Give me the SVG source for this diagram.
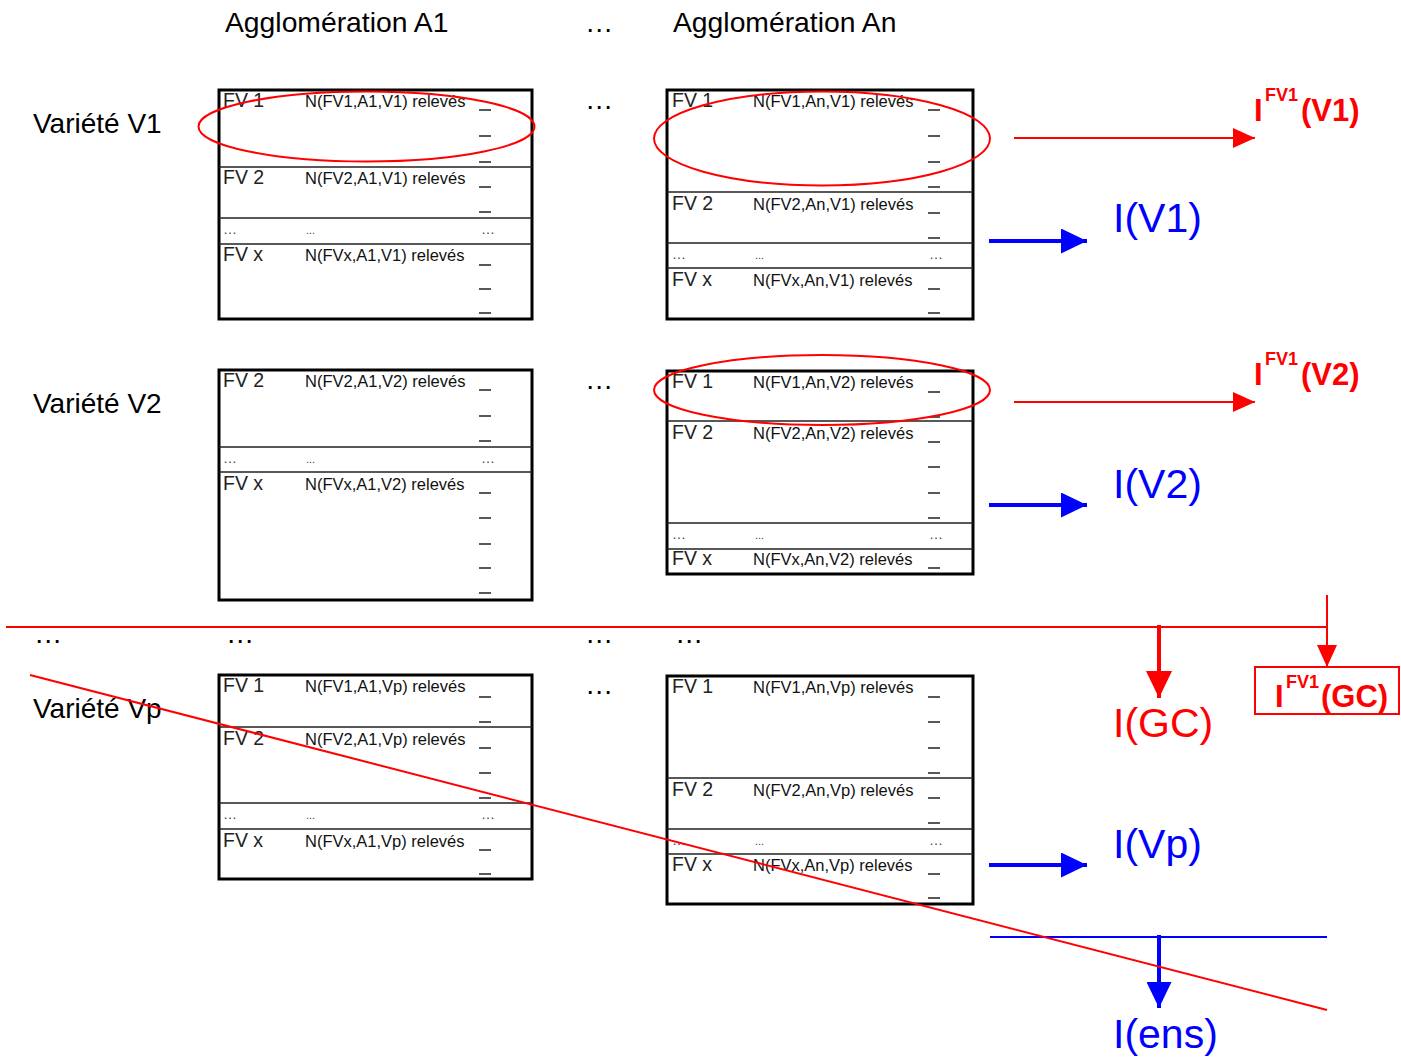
<svg xmlns="http://www.w3.org/2000/svg" width="1401" height="1060" viewBox="0 0 1401 1060">
<defs>
<style>
.hdr{font-family:"Liberation Sans",Arial,sans-serif;font-size:28.3px;fill:#000}
.var{font-family:"Liberation Sans",Arial,sans-serif;font-size:28px;fill:#000}
.fv{font-family:"Liberation Sans",Arial,sans-serif;font-size:19.5px;fill:#222}
.nt{font-family:"Liberation Sans",Arial,sans-serif;font-size:16.5px;fill:#111}
.el{font-family:"Liberation Sans",Arial,sans-serif;font-size:14px;fill:#444}
.el2{font-family:"Liberation Sans",Arial,sans-serif;font-size:11px;fill:#444}
.box{fill:#fff;stroke:#000;stroke-width:3}
.div{stroke:#222;stroke-width:1.5;fill:none}
.dash{stroke:#222;stroke-width:1.5;fill:none}
.ring{fill:none;stroke:#f00;stroke-width:2}
.res{font-family:"Liberation Sans",Arial,sans-serif;font-size:41px}
.bold{font-family:"Liberation Sans",Arial,sans-serif;font-weight:bold}
.red{fill:#f00}
.blue{fill:#00f}
.rl{stroke:#f00;stroke-width:2;fill:none}
.rt{stroke:#f00;stroke-width:4;fill:none}
.bl{stroke:#00f;stroke-width:2;fill:none}
.bt{stroke:#00f;stroke-width:4;fill:none}
</style>
<marker id="hr" markerUnits="userSpaceOnUse" viewBox="0 0 22 20" refX="22" refY="10" markerWidth="22" markerHeight="20" orient="auto"><path d="M0,0L22,10L0,20z" fill="#f00"/></marker>
<marker id="hrt" markerUnits="userSpaceOnUse" viewBox="0 0 27 26" refX="27" refY="13" markerWidth="27" markerHeight="26" orient="auto"><path d="M0,0L27,13L0,26z" fill="#f00"/></marker>
<marker id="hbt" markerUnits="userSpaceOnUse" viewBox="0 0 26 25" refX="26" refY="12.5" markerWidth="26" markerHeight="25" orient="auto"><path d="M0,0L26,12.5L0,25z" fill="#00f"/></marker>
</defs>
<rect width="1401" height="1060" fill="#fff"/>

<g id="headers">
<text class="hdr" x="225" y="32">Agglomération A1</text>
<text class="hdr" x="585" y="32">…</text>
<text class="hdr" x="673" y="32">Agglomération An</text>
<text class="hdr" x="585" y="109">…</text>
<text class="hdr" x="585" y="389">…</text>
<text class="hdr" x="585" y="694">…</text>
<text class="hdr" x="34" y="643">…</text>
<text class="hdr" x="226" y="643">…</text>
<text class="hdr" x="585" y="643">…</text>
<text class="hdr" x="675" y="643">…</text>
<text class="var" x="33" y="133">Variété V1</text>
<text class="var" x="33" y="413">Variété V2</text>
<text class="var" x="33" y="718">Variété Vp</text>
</g>

<g id="table-A1-V1">
<rect class="box" x="219" y="90" width="313" height="229"/>
<path class="div" d="M219 167H532M219 218H532M219 244H532"/>
<text class="fv" x="223" y="107">FV 1</text><text class="nt" x="305" y="107">N(FV1,A1,V1) relevés</text>
<text class="fv" x="223" y="184">FV 2</text><text class="nt" x="305" y="184">N(FV2,A1,V1) relevés</text>
<text class="el" x="223" y="234">…</text><text class="el2" x="306" y="234">...</text><text class="el" x="481" y="234">…</text>
<text class="fv" x="223" y="261">FV x</text><text class="nt" x="305" y="261">N(FVx,A1,V1) relevés</text>
<path class="dash" d="M479 110h12M479 136h12M479 162h12M479 187h12M479 212h12M479 265h12M479 289h12M479 313h12"/>
</g>

<g id="table-An-V1">
<rect class="box" x="667" y="90" width="306" height="229"/>
<path class="div" d="M667 192H973M667 243H973M667 268H973"/>
<text class="fv" x="672" y="107">FV 1</text><text class="nt" x="753" y="107">N(FV1,An,V1) relevés</text>
<text class="fv" x="672" y="210">FV 2</text><text class="nt" x="753" y="210">N(FV2,An,V1) relevés</text>
<text class="el" x="672" y="259">…</text><text class="el2" x="755" y="259">...</text><text class="el" x="929" y="259">…</text>
<text class="fv" x="672" y="286">FV x</text><text class="nt" x="753" y="286">N(FVx,An,V1) relevés</text>
<path class="dash" d="M928 110h12M928 136h12M928 162h12M928 187h12M928 213h12M928 238h12M928 289h12M928 313h12"/>
</g>

<g id="table-A1-V2">
<rect class="box" x="219" y="370" width="313" height="230"/>
<path class="div" d="M219 447H532M219 472H532"/>
<text class="fv" x="223" y="387">FV 2</text><text class="nt" x="305" y="387">N(FV2,A1,V2) relevés</text>
<text class="el" x="223" y="463">…</text><text class="el2" x="306" y="463">...</text><text class="el" x="481" y="463">…</text>
<text class="fv" x="223" y="490">FV x</text><text class="nt" x="305" y="490">N(FVx,A1,V2) relevés</text>
<path class="dash" d="M479 390h12M479 416h12M479 441h12M479 493h12M479 518h12M479 544h12M479 568h12M479 593h12"/>
</g>

<g id="table-An-V2">
<rect class="box" x="667" y="371" width="306" height="203"/>
<path class="div" d="M667 421H973M667 523H973M667 549H973"/>
<text class="fv" x="672" y="388">FV 1</text><text class="nt" x="753" y="388">N(FV1,An,V2) relevés</text>
<text class="fv" x="672" y="439">FV 2</text><text class="nt" x="753" y="439">N(FV2,An,V2) relevés</text>
<text class="el" x="672" y="539">…</text><text class="el2" x="755" y="539">...</text><text class="el" x="929" y="539">…</text>
<text class="fv" x="672" y="565">FV x</text><text class="nt" x="753" y="565">N(FVx,An,V2) relevés</text>
<path class="dash" d="M928 392h12M928 417h12M928 442h12M928 467h12M928 493h12M928 518h12M928 568h12"/>
</g>

<g id="table-A1-Vp">
<rect class="box" x="219" y="675" width="313" height="204"/>
<path class="div" d="M219 727H532M219 803H532M219 829H532"/>
<text class="fv" x="223" y="692">FV 1</text><text class="nt" x="305" y="692">N(FV1,A1,Vp) relevés</text>
<text class="fv" x="223" y="745">FV 2</text><text class="nt" x="305" y="745">N(FV2,A1,Vp) relevés</text>
<text class="el" x="223" y="819">…</text><text class="el2" x="306" y="819">...</text><text class="el" x="481" y="819">…</text>
<text class="fv" x="223" y="847">FV x</text><text class="nt" x="305" y="847">N(FVx,A1,Vp) relevés</text>
<path class="dash" d="M479 697h12M479 722h12M479 748h12M479 773h12M479 798h12M479 850h12M479 874h12"/>
</g>

<g id="table-An-Vp">
<rect class="box" x="667" y="676" width="306" height="228"/>
<path class="div" d="M667 778H973M667 829H973M667 854H973"/>
<text class="fv" x="672" y="693">FV 1</text><text class="nt" x="753" y="693">N(FV1,An,Vp) relevés</text>
<text class="fv" x="672" y="796">FV 2</text><text class="nt" x="753" y="796">N(FV2,An,Vp) relevés</text>
<text class="el" x="672" y="845">…</text><text class="el2" x="755" y="845">...</text><text class="el" x="929" y="845">…</text>
<text class="fv" x="672" y="871">FV x</text><text class="nt" x="753" y="871">N(FVx,An,Vp) relevés</text>
<path class="dash" d="M928 697h12M928 722h12M928 748h12M928 773h12M928 798h12M928 823h12M928 874h12M928 898h12"/>
</g>

<g id="highlights">
<ellipse class="ring" cx="366.5" cy="126.5" rx="168" ry="35"/>
<ellipse class="ring" cx="822" cy="138.5" rx="168" ry="47"/>
<ellipse class="ring" cx="822" cy="390" rx="168" ry="35"/>
</g>

<g id="results">
<text class="bold red" y="121"><tspan x="1254" font-size="31">I</tspan><tspan x="1265" y="101" font-size="18">FV1</tspan><tspan x="1301" y="121" font-size="31">(V1)</tspan></text>
<text class="bold red" y="385"><tspan x="1254" font-size="31">I</tspan><tspan x="1265" y="365" font-size="18">FV1</tspan><tspan x="1301" y="385" font-size="31">(V2)</tspan></text>
<text class="res blue" x="1113" y="232">I(V1)</text>
<text class="res blue" x="1113" y="498">I(V2)</text>
<text class="res red" x="1113" y="737">I(GC)</text>
<text class="res blue" x="1113" y="858">I(Vp)</text>
<text class="res blue" x="1113" y="1048">I(ens)</text>
<rect x="1255" y="667" width="144" height="47" fill="none" stroke="#f00" stroke-width="2"/>
<text class="bold red" y="707"><tspan x="1275" font-size="31">I</tspan><tspan x="1286" y="688" font-size="18">FV1</tspan><tspan x="1321" y="707" font-size="31">(GC)</tspan></text>
</g>

<g id="connectors">
<line class="rl" x1="1014" y1="138" x2="1255" y2="138" marker-end="url(#hr)"/>
<line class="rl" x1="1014" y1="402" x2="1255" y2="402" marker-end="url(#hr)"/>
<line class="bt" x1="989" y1="241" x2="1087" y2="241" marker-end="url(#hbt)"/>
<line class="bt" x1="989" y1="505" x2="1087" y2="505" marker-end="url(#hbt)"/>
<line class="bt" x1="989" y1="865" x2="1087" y2="865" marker-end="url(#hbt)"/>
<line class="rl" x1="6" y1="627" x2="1327" y2="627"/>
<line class="rl" x1="1327" y1="595" x2="1327" y2="667" marker-end="url(#hr)"/>
<line class="rt" x1="1159" y1="625" x2="1159" y2="698" marker-end="url(#hrt)"/>
<line class="bl" x1="990" y1="937" x2="1327" y2="937"/>
<line class="bt" x1="1159" y1="935" x2="1159" y2="1008" marker-end="url(#hbt)"/>
<line class="rl" x1="30" y1="675" x2="1327" y2="1010"/>
</g>
</svg>
